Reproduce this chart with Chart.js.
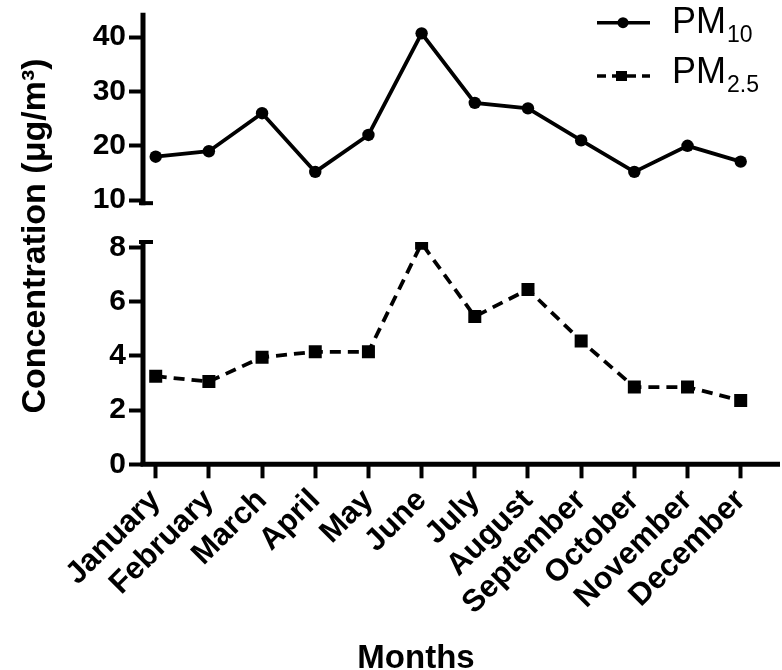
<!DOCTYPE html>
<html>
<head>
<meta charset="utf-8">
<script src="https://cdn.jsdelivr.net/npm/chart.js@4.4.1/dist/chart.umd.min.js"></script>
<style>
html,body{margin:0;padding:0;background:#fff;}
#wrap{width:782px;height:670px;position:relative;}
canvas{display:block;}
</style>
</head>
<body>
<div id="wrap"><canvas id="c" width="782" height="670"></canvas></div>
<script>
// ---- data ----
const months = ['January','February','March','April','May','June','July','August','September','October','November','December'];
const pm10 = [18, 19, 26, 15.2, 22, 40.7, 27.9, 26.9, 21, 15.2, 20, 17.1];
const pm25 = [3.25, 3.05, 3.95, 4.15, 4.15, 8.15, 5.45, 6.45, 4.55, 2.85, 2.85, 2.35];
const pm10Ticks = [10, 20, 30, 40];
const pm25Ticks = [0, 2, 4, 6, 8];
const legendMain = ['PM', 'PM'];
const legendSub = ['10', '2.5'];
const yTitle = 'Concentration (\u03bcg/m\u00b3)';
const xTitle = 'Months';

const FONT = '"Liberation Sans", Arial, Helvetica, sans-serif';
Chart.defaults.font.family = FONT;
Chart.defaults.color = '#000';

const AXW = 5;

const axisPlugin = {
  id: 'brokenAxes',
  afterDraw(chart) {
    const ctx = chart.ctx, ca = chart.chartArea;
    const yH = chart.scales.yHigh, yL = chart.scales.yLow;
    const x0 = ca.left;
    ctx.save();
    ctx.strokeStyle = '#000';
    ctx.lineWidth = AXW;
    ctx.lineCap = 'butt';
    // upper segment with break cap
    const hTop = yH.getPixelForValue(yH.max);
    const hBot = yH.getPixelForValue(10) + 3;
    ctx.beginPath();
    ctx.moveTo(x0, hTop); ctx.lineTo(x0, hBot + 2);
    ctx.stroke();
    ctx.lineWidth = 4;
    ctx.beginPath();
    ctx.moveTo(x0 - 4, hBot); ctx.lineTo(x0 + 10, hBot);
    ctx.stroke();
    // lower segment with break cap
    const lTop = yL.getPixelForValue(yL.max);
    const lBot = yL.getPixelForValue(0);
    ctx.lineWidth = AXW;
    ctx.beginPath();
    ctx.moveTo(x0, lTop - 2); ctx.lineTo(x0, lBot);
    ctx.stroke();
    ctx.lineWidth = 4;
    ctx.beginPath();
    ctx.moveTo(x0 - 4, lTop); ctx.lineTo(x0 + 10, lTop);
    ctx.stroke();
    // x axis
    ctx.lineWidth = AXW;
    ctx.beginPath();
    ctx.moveTo(x0 - AXW / 2, lBot); ctx.lineTo(ca.right, lBot);
    ctx.stroke();
    ctx.restore();
  }
};

const textPlugin = {
  id: 'texts',
  afterDraw(chart) {
    const ctx = chart.ctx;
    ctx.save();
    ctx.fillStyle = '#000';
    ctx.font = 'bold 34px ' + FONT;
    ctx.textAlign = 'center';
    ctx.textBaseline = 'alphabetic';
    ctx.save();
    ctx.translate(45, 236);
    ctx.rotate(-Math.PI / 2);
    ctx.fillText(yTitle, 0, 0);
    ctx.restore();
    ctx.font = 'bold 33px ' + FONT;
    ctx.fillText(xTitle, 416, 668);
    ctx.restore();
  }
};

const legendPlugin = {
  id: 'customLegend',
  afterDraw(chart) {
    const ctx = chart.ctx;
    const rows = [
      {lineY: 22.7, textY: 33},
      {lineY: 76, textY: 83}
    ];
    ctx.save();
    chart.data.datasets.forEach((ds, i) => {
      const r = rows[i];
      ctx.strokeStyle = '#000';
      ctx.fillStyle = '#000';
      ctx.lineWidth = 3.5;
      ctx.setLineDash(i === 1 ? [9, 6] : []);
      ctx.beginPath();
      ctx.moveTo(597, r.lineY); ctx.lineTo(650, r.lineY);
      ctx.stroke();
      ctx.setLineDash([]);
      if (ds.pointStyle === 'circle') {
        ctx.beginPath();
        ctx.arc(623, r.lineY, 5.5, 0, Math.PI * 2);
        ctx.fill();
      } else {
        ctx.fillRect(616, r.lineY - 5, 11, 10);
      }
      ctx.textAlign = 'left';
      ctx.textBaseline = 'alphabetic';
      ctx.font = '36px ' + FONT;
      ctx.fillText(legendMain[i], 672, r.textY);
      const w = ctx.measureText(legendMain[i]).width;
      ctx.font = '23px ' + FONT;
      ctx.fillText(legendSub[i], 672 + w + 1, r.textY + 9);
    });
    ctx.restore();
  }
};

const yTickFont = {size: 30, weight: 'bold'};
const xTickFont = {size: 31, weight: 'bold'};
const zeroPad = s => { s.paddingTop = 0; s.paddingBottom = 0; s.paddingLeft = 0; s.paddingRight = 0; };

new Chart(document.getElementById('c'), {
  type: 'line',
  data: {
    datasets: [
      {
        label: 'PM10',
        data: pm10.map((v, i) => ({x: i, y: v})),
        yAxisID: 'yHigh',
        borderColor: '#000',
        backgroundColor: '#000',
        borderWidth: 3.8,
        pointStyle: 'circle',
        pointRadius: 6.2,
        pointBorderWidth: 0,
        tension: 0,
        fill: false
      },
      {
        label: 'PM2.5',
        data: pm25.map((v, i) => ({x: i, y: v})),
        yAxisID: 'yLow',
        borderColor: '#000',
        backgroundColor: '#000',
        borderWidth: 3.8,
        borderDash: [11, 7],
        pointStyle: 'rect',
        pointRadius: 9.2,
        pointBorderWidth: 0,
        tension: 0,
        fill: false
      }
    ]
  },
  options: {
    responsive: false,
    animation: false,
    devicePixelRatio: 1,
    layout: {autoPadding: false, padding: {left: 0, right: 2, top: 12.7, bottom: 0}},
    plugins: {legend: {display: false}, tooltip: {enabled: false}},
    scales: {
      x: {
        type: 'linear',
        min: -0.239,
        max: 11.739,
        afterBuildTicks: s => { s.ticks = months.map((m, i) => ({value: i})); },
        afterFit: s => { s.height = 670 - 464.3; zeroPad(s); },
        ticks: {
          autoSkip: false,
          minRotation: 45,
          maxRotation: 45,
          color: '#000',
          font: xTickFont,
          padding: 4,
          callback: v => months[v]
        },
        grid: {drawOnChartArea: false, drawTicks: true, tickLength: 14, tickWidth: 4, tickColor: '#000'},
        border: {display: false}
      },
      yLow: {
        type: 'linear',
        position: 'left',
        stack: 'v',
        stackWeight: 222.3,
        min: 0,
        max: 8.2,
        afterBuildTicks: s => { s.ticks = pm25Ticks.map(v => ({value: v})); },
        afterFit: s => { s.width = 143; zeroPad(s); },
        ticks: {color: '#000', font: yTickFont, padding: 3},
        grid: {drawOnChartArea: false, drawTicks: true, tickLength: 14, tickWidth: 4, tickColor: '#000'},
        border: {display: false}
      },
      yHigh: {
        type: 'linear',
        position: 'left',
        stack: 'v',
        stackWeight: 229.3,
        min: 2.3,
        max: 44.5,
        afterBuildTicks: s => { s.ticks = pm10Ticks.map(v => ({value: v})); },
        afterFit: s => { s.width = 143; zeroPad(s); },
        ticks: {color: '#000', font: yTickFont, padding: 3},
        grid: {drawOnChartArea: false, drawTicks: true, tickLength: 14, tickWidth: 4, tickColor: '#000'},
        border: {display: false}
      }
    }
  },
  plugins: [axisPlugin, textPlugin, legendPlugin]
});
</script>
</body>
</html>
